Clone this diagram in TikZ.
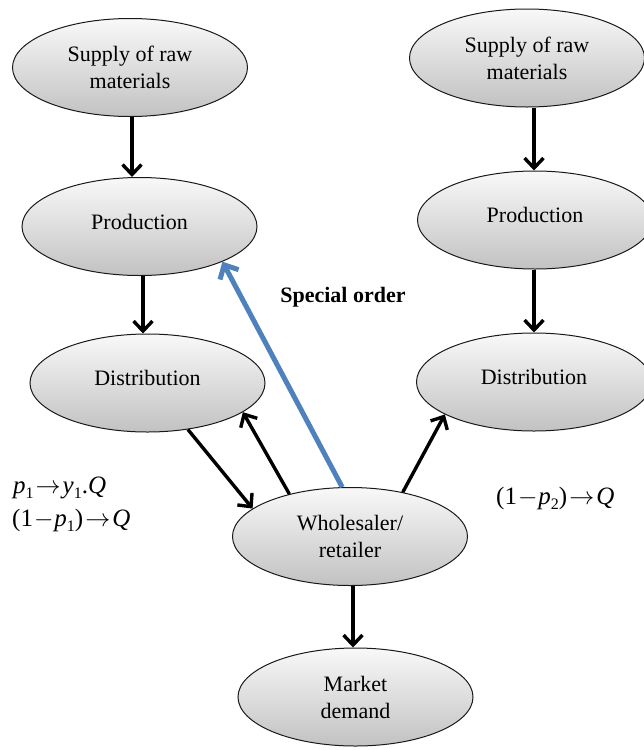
\RequirePackage{fix-cm}
\documentclass[tikz,border=0pt]{standalone}
\usepackage{fontspec}
\setmainfont{Liberation Serif}
\usetikzlibrary{shapes.geometric,arrows.meta}
\definecolor{orderblue}{HTML}{4F81BD}
\newcommand\lowsub[1]{\raisebox{-5pt}{\fontsize{16}{16}\selectfont #1}}
\newcommand\upline[1]{\raisebox{9.5pt}{#1}}
\newcommand\longto{\kern2pt$\rightarrow$\kern2pt}
\newcommand\mminus{\kern1pt$-$\kern1pt}
\begin{document}
\begin{tikzpicture}[x=1pt,y=-1pt,
  el/.style={ellipse,draw=black!90,line width=1pt,top color=gray!5,bottom color=gray!48,
    minimum width=235pt,minimum height=98pt,inner sep=0pt,align=center,
    font=\fontsize{22}{27}\selectfont},
  arr/.style={line width=3.4pt,-{Straight Barb[length=10pt,width=19pt]}},
  barr/.style={line width=5pt,draw=orderblue,-{Straight Barb[length=11pt,width=21pt]}},
  lab/.style={font=\fontsize{25}{27}\selectfont,inner sep=0pt}
]
\useasboundingbox (0,0) rectangle (644,750);
% ellipses
\node[el] (s1) at (130,67.5) {Supply of raw\\materials};
\node[el] (s2) at (527,58) {Supply of raw\\materials};
\node[el] (p1) at (139.5,226.5) {\upline{Production}};
\node[el] (p2) at (535,220) {\upline{Production}};
\node[el] (d1) at (147.5,383) {\upline{Distribution}};
\node[el] (d2) at (534,382) {\upline{Distribution}};
\node[el] (w) at (350,536.5) {Wholesaler/\\retailer};
\node[el] (m) at (355.5,697) {Market\\demand};
% guide coordinates for vertical connectors
\coordinate (xa) at (132,0);
\coordinate (xb) at (143,0);
\coordinate (xc) at (534,0);
\coordinate (xd) at (353,0);
% vertical connectors
\draw[arr] (s1.south -| xa) -- (p1.north -| xa);
\draw[arr] (p1.south -| xb) -- (d1.north -| xb);
\draw[arr] (s2.south -| xc) -- (p2.north -| xc);
\draw[arr] (p2.south -| xc) -- (d2.north -| xc);
\draw[arr] (w.south -| xd) -- (m.north -| xd);
% diagonal connectors
\draw[arr] (d1.-49) -- (w.164);
\draw[arr] (w.145) -- (d1.-17);
\draw[arr] (w.40) -- (d2.-160);
\draw[barr] (w.99) -- (p1.-23.5);
% labels
\node[lab,font=\fontsize{22}{27}\selectfont\bfseries] (so) at (343,297) {Special order};
\node[lab,anchor=west] (l1) at (13,488) {\textit{p}\lowsub{1}\longto\textit{y}\lowsub{1}.\textit{Q}};
\node[lab,anchor=west] (l2) at (12,520) {(1\mminus\textit{p}\lowsub{1})\longto\textit{Q}};
\node[lab,anchor=west] (l3) at (496,498) {(1\mminus\textit{p}\lowsub{2})\longto\textit{Q}};
\end{tikzpicture}
\end{document}
